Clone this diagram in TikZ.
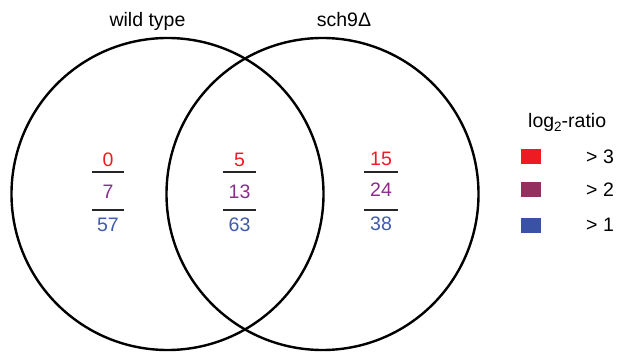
\documentclass[tikz,border=0pt]{standalone}
\usepackage{fontspec}
\setmainfont{Liberation Sans}
\definecolor{nred}{HTML}{ED1C24}
\definecolor{npurple}{HTML}{8A2E8C}
\definecolor{nblue}{HTML}{3F5BAA}
\definecolor{sqpurple}{HTML}{93305F}
\definecolor{sqblue}{HTML}{3A52A3}
\begin{document}
\begin{tikzpicture}[x=1pt,y=-1pt,
  txt/.style={inner sep=0pt,font=\fontsize{19.5}{22}\selectfont},
  venn/.style={draw=black,line width=2.4pt},
  frac/.style={draw=black!85,line width=1.6pt},
  sq/.style={inner sep=0pt,minimum width=20pt,minimum height=15pt}]
\useasboundingbox (0,0) rectangle (617,352);
% circles
\draw[venn] (167.5,194) circle[radius=156];
\draw[venn] (322.5,194) circle[radius=156];
% titles
\node[txt,anchor=base] (wt) at (147.5,27) {wild type};
\node[txt,anchor=base] (sc) at (344,27) {sch9Δ};
% left column
\node[txt,text=nred] (a1) at (108,160) {0};
\node[txt,text=npurple] (a2) at (108,192) {7};
\node[txt,text=nblue] (a3) at (108,225) {57};
\draw[frac] (92,172) -- (124,172);
\draw[frac] (92,210) -- (124,210);
% middle column
\node[txt,text=nred] (b1) at (239.5,160) {5};
\node[txt,text=npurple] (b2) at (239.5,192) {13};
\node[txt,text=nblue] (b3) at (239.5,225) {63};
\draw[frac] (223,172) -- (256,172);
\draw[frac] (223,210) -- (256,210);
% right column
\node[txt,text=nred] (c1) at (381,159) {15};
\node[txt,text=npurple] (c2) at (381,190) {24};
\node[txt,text=nblue] (c3) at (381,224) {38};
\draw[frac] (364,172) -- (398,172);
\draw[frac] (364,210) -- (398,210);
% legend
\node[txt,anchor=base west] (lg) at (528,128) {log\raisebox{-0.35ex}{\fontsize{13.5}{14}\selectfont 2}-ratio};
\node[sq,fill=nred] (s1) at (531,157) {};
\node[sq,fill=sqpurple] (s2) at (531,190) {};
\node[sq,fill=sqblue] (s3) at (531,225.5) {};
\node[txt,anchor=west] (l1) at (586,157) {> 3};
\node[txt,anchor=west] (l2) at (586,190) {> 2};
\node[txt,anchor=west] (l3) at (586,225) {> 1};
\end{tikzpicture}
\end{document}
